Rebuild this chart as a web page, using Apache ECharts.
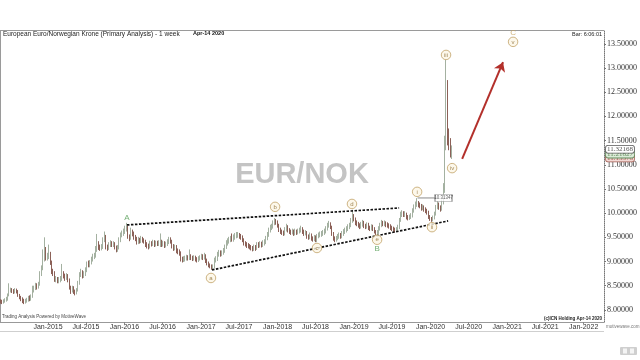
<!DOCTYPE html>
<html><head><meta charset="utf-8">
<script src="https://cdn.jsdelivr.net/npm/echarts@6/dist/echarts.min.js"></script>
<style>html,body{margin:0;padding:0;background:#fff}#c{width:640px;height:360px}</style>
</head><body><div id="c"></div>
<script>
// Weekly EUR/NOK bars, first bar week of 2014-05-19
const firstWeek = '2014-05-19';
const opens = [
8.18,8.17,8.16,8.18,8.20,8.22,8.30,8.40,8.41,8.39,
8.38,8.40,8.38,8.30,8.26,8.22,8.19,8.17,8.18,8.20,
8.24,8.22,8.27,8.40,8.45,8.50,8.47,8.53,8.75,8.85,
9.12,9.20,9.08,9.10,9.15,8.98,8.78,8.75,8.62,8.64,
8.60,8.62,8.63,8.72,8.70,8.66,8.70,8.62,8.46,8.40,
8.45,8.38,8.36,8.40,8.55,8.73,8.78,8.70,8.75,8.82,
8.95,8.93,8.98,9.05,9.10,9.12,9.25,9.38,9.30,9.28,
9.30,9.45,9.52,9.30,9.28,9.35,9.38,9.35,9.36,9.30,
9.24,9.28,9.45,9.55,9.58,9.62,9.68,9.72,9.52,9.48,
9.60,9.58,9.50,9.48,9.40,9.45,9.42,9.47,9.44,9.42,
9.35,9.32,9.30,9.38,9.36,9.40,9.35,9.38,9.37,9.38,
9.40,9.35,9.38,9.33,9.36,9.40,9.45,9.42,9.32,9.28,
9.30,9.22,9.20,9.18,9.05,9.03,9.05,9.06,9.08,9.07,
9.10,9.08,9.06,9.08,9.05,9.03,9.06,9.08,9.10,9.08,
9.12,9.02,8.97,8.92,8.90,8.87,8.88,9.02,9.05,9.15,
9.18,9.15,9.18,9.22,9.30,9.38,9.42,9.45,9.48,9.46,
9.50,9.53,9.55,9.55,9.52,9.50,9.45,9.38,9.36,9.33,
9.32,9.30,9.28,9.26,9.30,9.27,9.35,9.33,9.36,9.34,
9.38,9.40,9.48,9.55,9.65,9.70,9.72,9.80,9.83,9.82,
9.75,9.66,9.62,9.60,9.58,9.66,9.72,9.65,9.62,9.60,
9.62,9.58,9.62,9.60,9.62,9.64,9.68,9.62,9.58,9.60,
9.52,9.50,9.55,9.48,9.46,9.50,9.45,9.52,9.55,9.56,
9.58,9.60,9.62,9.68,9.75,9.78,9.72,9.58,9.48,9.45,
9.48,9.52,9.55,9.52,9.58,9.62,9.65,9.68,9.72,9.75,
9.85,9.95,9.88,9.80,9.78,9.75,9.72,9.77,9.80,9.74,
9.72,9.76,9.70,9.68,9.72,9.68,9.62,9.58,9.60,9.68,
9.75,9.80,9.78,9.79,9.76,9.75,9.73,9.70,9.68,9.66,
9.65,9.66,9.70,9.85,9.97,10.00,9.97,9.98,9.92,9.90,
9.92,9.95,10.05,10.12,10.18,10.20,10.17,10.15,10.10,10.12,
10.08,10.05,10.02,9.92,9.88,9.86,9.90,9.98,10.12,10.18,
10.12,10.08,10.22,10.55,11.45,12.65,11.55,11.48,11.22];
const closes = [
8.17,8.16,8.18,8.20,8.22,8.30,8.40,8.41,8.39,8.38,
8.40,8.38,8.30,8.26,8.22,8.19,8.17,8.18,8.20,8.24,
8.22,8.27,8.40,8.45,8.50,8.47,8.53,8.75,8.85,9.12,
9.20,9.08,9.10,9.15,8.98,8.78,8.75,8.62,8.64,8.60,
8.62,8.63,8.72,8.70,8.66,8.70,8.62,8.46,8.40,8.45,
8.38,8.36,8.40,8.55,8.73,8.78,8.70,8.75,8.82,8.95,
8.93,8.98,9.05,9.10,9.12,9.25,9.38,9.30,9.28,9.30,
9.45,9.52,9.30,9.28,9.35,9.38,9.35,9.36,9.30,9.24,
9.28,9.45,9.55,9.58,9.62,9.68,9.72,9.52,9.48,9.60,
9.58,9.50,9.48,9.40,9.45,9.42,9.47,9.44,9.42,9.35,
9.32,9.30,9.38,9.36,9.40,9.35,9.38,9.37,9.38,9.40,
9.35,9.38,9.33,9.36,9.40,9.45,9.42,9.32,9.28,9.30,
9.22,9.20,9.18,9.05,9.03,9.05,9.06,9.08,9.07,9.10,
9.08,9.06,9.08,9.05,9.03,9.06,9.08,9.10,9.08,9.12,
9.02,8.97,8.92,8.90,8.87,8.88,9.02,9.05,9.15,9.18,
9.15,9.18,9.22,9.30,9.38,9.42,9.45,9.48,9.46,9.50,
9.53,9.55,9.55,9.52,9.50,9.45,9.38,9.36,9.33,9.32,
9.30,9.28,9.26,9.30,9.27,9.35,9.33,9.36,9.34,9.38,
9.40,9.48,9.55,9.65,9.70,9.72,9.80,9.83,9.82,9.75,
9.66,9.62,9.60,9.58,9.66,9.72,9.65,9.62,9.60,9.62,
9.58,9.62,9.60,9.62,9.64,9.68,9.62,9.58,9.60,9.52,
9.50,9.55,9.48,9.46,9.50,9.45,9.52,9.55,9.56,9.58,
9.60,9.62,9.68,9.75,9.78,9.72,9.58,9.48,9.45,9.48,
9.52,9.55,9.52,9.58,9.62,9.65,9.68,9.72,9.75,9.85,
9.95,9.88,9.80,9.78,9.75,9.72,9.77,9.80,9.74,9.72,
9.76,9.70,9.68,9.72,9.68,9.62,9.58,9.60,9.68,9.75,
9.80,9.78,9.79,9.76,9.75,9.73,9.70,9.68,9.66,9.65,
9.66,9.70,9.85,9.97,10.00,9.97,9.98,9.92,9.90,9.92,
9.95,10.05,10.12,10.18,10.20,10.17,10.15,10.10,10.12,10.08,
10.05,10.02,9.92,9.88,9.86,9.90,9.98,10.12,10.18,10.12,
10.08,10.22,10.55,11.45,12.65,11.55,11.48,11.22,11.32];
const lows = [
8.13,8.12,8.13,8.15,8.17,8.19,8.28,8.36,8.35,8.33,
8.34,8.34,8.27,8.22,8.18,8.14,8.12,8.13,8.15,8.17,
8.18,8.19,8.25,8.36,8.41,8.42,8.44,8.50,8.70,8.82,
9.00,9.02,9.02,9.05,8.93,8.74,8.70,8.58,8.57,8.55,
8.55,8.57,8.60,8.65,8.60,8.62,8.57,8.42,8.33,8.36,
8.33,8.30,8.32,8.38,8.52,8.68,8.65,8.66,8.70,8.78,
8.88,8.88,8.94,9.00,9.05,9.08,9.20,9.24,9.22,9.23,
9.26,9.40,9.25,9.22,9.24,9.30,9.30,9.30,9.25,9.19,
9.20,9.25,9.40,9.50,9.53,9.57,9.62,9.47,9.42,9.45,
9.52,9.45,9.42,9.35,9.36,9.37,9.38,9.39,9.37,9.30,
9.27,9.25,9.27,9.31,9.32,9.30,9.31,9.32,9.32,9.30,
9.30,9.31,9.28,9.29,9.32,9.36,9.37,9.27,9.22,9.23,
9.17,9.15,9.12,9.00,8.98,8.99,9.00,9.02,9.02,9.03,
9.03,9.01,9.02,9.00,8.98,8.99,9.02,9.04,9.03,9.04,
8.97,8.92,8.88,8.86,8.83,8.84,8.86,8.98,9.01,9.10,
9.10,9.11,9.14,9.18,9.26,9.33,9.37,9.40,9.41,9.41,
9.45,9.48,9.49,9.47,9.45,9.40,9.33,9.31,9.28,9.27,
9.25,9.23,9.21,9.22,9.22,9.24,9.28,9.29,9.29,9.30,
9.33,9.36,9.44,9.51,9.60,9.65,9.68,9.75,9.76,9.70,
9.61,9.57,9.55,9.53,9.54,9.62,9.60,9.57,9.55,9.56,
9.53,9.54,9.55,9.56,9.58,9.60,9.57,9.53,9.54,9.47,
9.45,9.46,9.43,9.41,9.42,9.40,9.40,9.48,9.50,9.51,
9.53,9.55,9.58,9.64,9.70,9.67,9.53,9.43,9.40,9.41,
9.44,9.47,9.47,9.48,9.53,9.57,9.60,9.63,9.67,9.71,
9.80,9.83,9.75,9.73,9.70,9.67,9.68,9.72,9.69,9.67,
9.68,9.65,9.63,9.64,9.63,9.58,9.54,9.53,9.57,9.64,
9.71,9.73,9.73,9.71,9.70,9.68,9.65,9.63,9.61,9.60,
9.61,9.62,9.67,9.82,9.92,9.92,9.92,9.87,9.85,9.86,
9.88,9.91,10.01,10.08,10.13,10.12,10.10,10.05,10.06,10.03,
10.00,9.97,9.88,9.84,9.82,9.83,9.87,9.95,10.08,10.07,
10.03,10.05,10.18,10.42,11.30,11.40,11.30,11.15,11.12];
const highs = [
8.22,8.21,8.22,8.24,8.27,8.34,8.55,8.46,8.45,8.43,
8.45,8.44,8.41,8.33,8.29,8.26,8.23,8.23,8.25,8.29,
8.30,8.32,8.50,8.50,8.56,8.55,8.58,8.80,8.92,9.25,
9.50,9.30,9.18,9.35,9.20,9.02,8.85,8.80,8.70,8.68,
8.68,8.70,8.95,8.80,8.75,8.76,8.74,8.65,8.50,8.50,
8.49,8.42,8.45,8.60,8.78,8.85,8.82,8.80,8.88,9.00,
9.02,9.03,9.10,9.16,9.18,9.32,9.57,9.42,9.35,9.36,
9.50,9.62,9.55,9.35,9.40,9.44,9.42,9.42,9.40,9.33,
9.34,9.50,9.60,9.64,9.68,9.74,9.80,9.74,9.56,9.70,
9.66,9.62,9.55,9.51,9.51,9.49,9.53,9.51,9.48,9.45,
9.40,9.37,9.43,9.42,9.45,9.44,9.43,9.43,9.44,9.58,
9.45,9.43,9.42,9.41,9.46,9.51,9.50,9.45,9.36,9.35,
9.34,9.27,9.25,9.21,9.10,9.11,9.12,9.14,9.13,9.25,
9.15,9.12,9.13,9.12,9.09,9.11,9.13,9.16,9.15,9.18,
9.15,9.06,9.00,8.96,8.94,8.94,9.08,9.11,9.20,9.24,
9.23,9.23,9.28,9.35,9.44,9.48,9.51,9.53,9.58,9.56,
9.59,9.61,9.61,9.59,9.57,9.54,9.48,9.42,9.40,9.38,
9.36,9.34,9.32,9.35,9.34,9.40,9.40,9.42,9.41,9.44,
9.46,9.53,9.61,9.70,9.76,9.78,9.85,9.90,9.88,9.85,
9.78,9.70,9.66,9.64,9.71,9.78,9.75,9.69,9.66,9.68,
9.66,9.68,9.66,9.68,9.70,9.74,9.71,9.66,9.65,9.63,
9.56,9.60,9.58,9.52,9.55,9.54,9.57,9.60,9.62,9.63,
9.65,9.68,9.73,9.80,9.84,9.81,9.74,9.61,9.52,9.53,
9.57,9.60,9.59,9.63,9.67,9.70,9.73,9.77,9.80,9.90,
10.07,9.98,9.91,9.85,9.82,9.79,9.82,9.86,9.84,9.78,
9.81,9.80,9.74,9.77,9.76,9.71,9.65,9.65,9.73,9.80,
9.86,9.84,9.85,9.83,9.81,9.79,9.77,9.74,9.72,9.70,
9.71,9.76,9.90,10.03,10.06,10.04,10.04,10.01,9.96,9.97,
10.00,10.10,10.18,10.24,10.31,10.25,10.22,10.19,10.18,10.16,
10.12,10.09,10.05,9.96,9.92,9.95,10.03,10.17,10.25,10.22,
10.16,10.28,10.62,11.60,13.17,12.75,11.75,11.55,11.40];

// Axis ticks
const xTickDates = ['2015-01-01','2015-07-01','2016-01-01','2016-07-01','2017-01-01','2017-07-01','2018-01-01','2018-07-01','2019-01-01','2019-07-01','2020-01-01','2020-07-01','2021-01-01','2021-07-01','2022-01-01'];
const yTickValues = [8,8.5,9,9.5,10,10.5,11,11.5,12,12.5,13,13.5];
const xRange = ['2014-05-17','2022-04-08'];
const yRange = [7.75, 13.785];

// Elliott wave annotations
const waveNames = ['a','b','c','d','e','i','ii','iii','iv','v'];
const waveDates = ['2017-02-17','2017-12-20','2018-07-08','2018-12-22','2019-04-21','2019-10-29','2020-01-08','2020-03-15','2020-04-13','2021-01-29'];
const waveValues = [8.66,10.13,9.28,10.19,9.45,10.44,9.71,13.27,10.93,13.54];
const greenNames = ['A','B'];
const greenDates = ['2016-01-13','2019-04-21'];
const greenValues = [9.90,9.26];
const goldNames = ['C'];
const goldDates = ['2021-01-29'];
const goldValues = [13.72];

// Trend lines, projection arrow, wave-i level
const upperLineDates = ['2016-01-13','2019-08-04'];
const upperLineValues = [9.756,10.107];
const lowerLineDates = ['2017-02-22','2020-03-25'];
const lowerLineValues = [8.826,9.839];
const arrowDates = ['2020-05-31','2020-12-12'];
const arrowValues = [11.12,13.12];
const waveILevel = 10.31347;
const waveILevelDates = ['2019-10-31','2020-02-01'];
const waveIBoxDate = '2020-03-03';
const priceTags = [11.14, 11.22, 11.32168];
const priceTagText = ['11.13378','11.21827','11.32168'];

const T = s => Date.parse(s + 'T00:00:00Z');
const WEEK = 7 * 864e5;
const t0 = T(firstWeek);
const candles = closes.map((c, i) => [t0 + i * WEEK, opens[i], c, lows[i], highs[i]]);
const MONTHS = ['Jan','Feb','Mar','Apr','May','Jun','Jul','Aug','Sep','Oct','Nov','Dec'];
const xTicks = xTickDates.map(T);

const tagColors = [['#f3d9d5','#a05a50'],['#dcebd8','#5f8a5a'],['#ffffff','#555']];

const chart = echarts.init(document.getElementById('c'), null, {renderer: 'canvas'});
chart.setOption({
  animation: false,
  backgroundColor: '#fff',
  grid: {left: 0, right: 36, top: 30, bottom: 38, containLabel: false, outerBoundsMode: 'none', show: false},
  xAxis: {
    type: 'value', min: T(xRange[0]), max: T(xRange[1]), scale: true,
    splitLine: {show: false},
    axisLine: {show: true, lineStyle: {color: '#999', width: 1}},
    axisTick: {show: true, length: 2, customValues: xTicks, lineStyle: {color: '#888'}},
    axisLabel: {
      customValues: xTicks, margin: 2, fontSize: 7, color: '#333', fontFamily: 'Liberation Sans',
      hideOverlap: false, showMinLabel: true, showMaxLabel: true,
      formatter: v => { const d = new Date(v); return MONTHS[d.getUTCMonth()] + '-' + d.getUTCFullYear(); }
    }
  },
  yAxis: {
    type: 'value', position: 'right', min: yRange[0], max: yRange[1], scale: true,
    splitLine: {show: false},
    axisLine: {show: true, lineStyle: {color: '#777', type: 'dotted', width: 1}},
    axisTick: {show: true, length: 2, customValues: yTickValues, lineStyle: {color: '#777'}},
    axisLabel: {customValues: yTickValues, margin: 3, fontSize: 8, color: '#333', fontFamily: 'Liberation Serif',
      showMinLabel: true, showMaxLabel: true,
      formatter: v => v.toFixed(5)}
  },
  series: [
    {
      type: 'candlestick', data: candles, encode: {x: 0, y: [1, 2, 3, 4]},
      barWidth: 1, z: 3,
      itemStyle: {color: '#a9bca5', color0: '#86584d', borderColor: '#a4b1a1', borderColor0: '#8c6158', borderWidth: 1},
      markLine: {
        silent: true, symbol: ['none', 'arrow'], symbolSize: 9, animation: false,
        data: [[
          {coord: [T(arrowDates[0]), arrowValues[0]]},
          {coord: [T(arrowDates[1]), arrowValues[1]]}
        ]],
        itemStyle: {color: '#b3302b'},
        lineStyle: {color: '#b3302b', width: 2, type: 'solid'},
        label: {show: false}
      }
    },
    {
      type: 'line', symbol: 'none', silent: true, z: 4,
      data: upperLineDates.map((d, i) => [T(d), upperLineValues[i]]),
      lineStyle: {color: '#111', width: 1.7, type: [2.5, 1.5]}
    },
    {
      type: 'line', symbol: 'none', silent: true, z: 4,
      data: lowerLineDates.map((d, i) => [T(d), lowerLineValues[i]]),
      lineStyle: {color: '#111', width: 1.7, type: [2.5, 1.5]}
    },
    {
      type: 'line', symbol: 'none', silent: true, z: 4,
      data: waveILevelDates.map(d => [T(d), waveILevel]),
      lineStyle: {color: '#8a8a8a', width: 1},
      markLine: {
        silent: true, symbol: 'none',
        data: priceTags.map((v, i) => ({
          yAxis: v,
          lineStyle: {color: 'rgba(0,0,0,0)', width: 0},
          label: {show: true, position: 'end', distance: 2, formatter: priceTagText[i], fontSize: 7,
            fontFamily: 'Liberation Serif', color: tagColors[i][1], backgroundColor: tagColors[i][0],
            borderColor: tagColors[i][1], borderWidth: 0.8, borderRadius: 2, padding: [0, 1]}
        }))
      }
    },
    {
      type: 'scatter', symbol: 'rect', symbolSize: [17, 7], z: 6, silent: true,
      data: [{value: [T(waveIBoxDate), waveILevel], name: waveILevel.toFixed(5)}],
      itemStyle: {color: '#fff', borderColor: '#777', borderWidth: 0.8},
      label: {show: true, position: 'inside', formatter: p => p.name, fontSize: 4.5, color: '#333', fontFamily: 'Liberation Sans'}
    },
    {
      type: 'scatter', symbol: 'circle', symbolSize: 9.5, z: 6, silent: true,
      data: waveNames.map((n, i) => ({name: n, value: [T(waveDates[i]), waveValues[i]]})),
      itemStyle: {color: '#fcf6e6', borderColor: '#c2a268', borderWidth: 1},
      label: {show: true, position: 'inside', formatter: p => p.name, fontSize: 6, color: '#8a6a30', fontFamily: 'Liberation Sans'}
    },
    {
      type: 'scatter', symbol: 'circle', symbolSize: 1, z: 6, silent: true,
      data: greenNames.map((n, i) => ({name: n, value: [T(greenDates[i]), greenValues[i]]})),
      itemStyle: {color: 'transparent'},
      label: {show: true, position: 'inside', formatter: p => p.name, fontSize: 8, color: '#4f9a4f', fontFamily: 'Liberation Sans'}
    },
    {
      type: 'scatter', symbol: 'circle', symbolSize: 1, z: 6, silent: true,
      data: goldNames.map((n, i) => ({name: n, value: [T(goldDates[i]), goldValues[i]]})),
      itemStyle: {color: 'transparent'},
      label: {show: true, position: 'inside', formatter: p => p.name, fontSize: 8, color: '#c5a15a', fontFamily: 'Liberation Sans'}
    }
  ],
  graphic: [
    {type: 'text', z: -10, silent: true, style: {text: 'EUR/NOK', x: 302, y: 189, align: 'center', verticalAlign: 'bottom',
      fill: '#c4c4c4', font: 'bold 29px "Liberation Sans"'}},
    {type: 'line', silent: true, shape: {x1: 0, y1: 30.5, x2: 604, y2: 30.5}, style: {stroke: '#9a9a9a', lineWidth: 1}},
    {type: 'line', silent: true, shape: {x1: 0.5, y1: 30, x2: 0.5, y2: 322}, style: {stroke: '#9a9a9a', lineWidth: 1}},
    {type: 'line', silent: true, shape: {x1: 0, y1: 331.5, x2: 604, y2: 331.5}, style: {stroke: '#cfcfcf', lineWidth: 1}},
    {type: 'text', silent: true, style: {text: 'European Euro/Norwegian Krone (Primary Analysis) - 1 week', x: 3, y: 34.5,
      verticalAlign: 'middle', fill: '#222', font: '6.5px "Liberation Sans"'}},
    {type: 'text', silent: true, style: {text: 'Apr-14 2020', x: 193, y: 33.5, verticalAlign: 'middle', fill: '#111',
      font: 'bold 5.5px "Liberation Sans"'}},
    {type: 'text', silent: true, style: {text: 'Bar: 6:06:01', x: 602, y: 34, align: 'right', verticalAlign: 'middle', fill: '#222',
      font: '5.5px "Liberation Sans"'}},
    {type: 'text', silent: true, style: {text: 'Trading Analysis Powered by MotiveWave', x: 2, y: 317, verticalAlign: 'middle',
      fill: '#444', font: '4.5px "Liberation Sans"'}},
    {type: 'text', silent: true, style: {text: '(c)ICN Holding Apr-14 2020', x: 602, y: 318.5, align: 'right', verticalAlign: 'middle',
      fill: '#222', font: 'bold 4.5px "Liberation Sans"'}},
    {type: 'text', silent: true, style: {text: 'motivewave.com', x: 606, y: 327, verticalAlign: 'middle',
      fill: '#777', font: '4.5px "Liberation Sans"'}},
    {type: 'rect', silent: true, shape: {x: 620, y: 347, width: 17, height: 8, r: 1}, style: {fill: '#cfcfcf'}},
    {type: 'rect', silent: true, shape: {x: 623, y: 348.5, width: 4, height: 5}, style: {fill: '#f4f4f4'}},
    {type: 'rect', silent: true, shape: {x: 630, y: 348.5, width: 4, height: 5}, style: {fill: '#f4f4f4'}}
  ]
});
</script></body></html>
